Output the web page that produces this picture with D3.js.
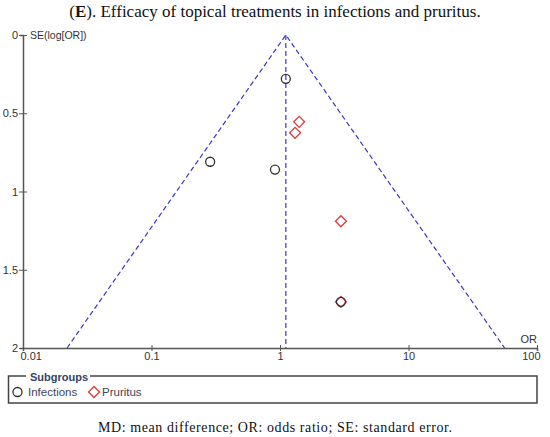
<!DOCTYPE html>
<html>
<head>
<meta charset="UTF-8">
<script src="https://cdn.jsdelivr.net/npm/d3@7"></script>
<style>
body { margin: 0; background: #fff; }
svg text { font-family: "Liberation Sans", Arial, sans-serif; }
</style>
</head>
<body>
<div id="chart"></div>
<script>
// study estimates
var subgroups = ["Infections", "Pruritus"];
var infectionsOR = [1.11, 0.286, 0.914, 2.98];
var infectionsSE = [0.28, 0.81, 0.86, 1.705];
var pruritusOR = [1.41, 1.31, 2.98, 2.98];
var pruritusSE = [0.555, 0.625, 1.19, 1.705];
var pooledOR = 1.11;
var xTicks = [0.01, 0.1, 1, 10, 100];
var yTicks = [0, 0.5, 1, 1.5, 2];

var w = 550, h = 437;
var svg = d3.select("#chart").append("svg")
    .attr("width", w)
    .attr("height", h);

var x = d3.scaleLog().domain([0.01, 100]).range([23, 537]);
var y = d3.scaleLinear().domain([0, 2]).range([35, 348]);

// title
var title = svg.append("text")
    .attr("x", 275).attr("y", 17)
    .attr("text-anchor", "middle")
    .style("font-family", "'Liberation Serif', serif")
    .style("font-size", "17px")
    .attr("fill", "#111");
title.append("tspan").text("(");
title.append("tspan").style("font-weight", "bold").text("E");
title.append("tspan").text("). Efficacy of topical treatments in infections and pruritus.");

// funnel lines
var seMax = 2;
var funnel = [
  [[pooledOR * Math.exp(-1.96 * seMax), seMax], [pooledOR, 0], [pooledOR * Math.exp(1.96 * seMax), seMax]]
];
var line = d3.line().x(d => x(d[0])).y(d => y(d[1]));
svg.append("path")
    .attr("d", line(funnel[0]))
    .attr("fill", "none")
    .attr("stroke", "#3838c4")
    .attr("stroke-width", 1.2)
    .attr("stroke-dasharray", "5,3");
svg.append("path")
    .attr("d", line([[pooledOR, 0], [pooledOR, seMax]]))
    .attr("fill", "none")
    .attr("stroke", "#3838c4")
    .attr("stroke-width", 1.2)
    .attr("stroke-dasharray", "5,3");

// axes
var xAxis = d3.axisBottom(x).tickValues(xTicks).tickSize(3)
    .tickFormat(d => String(d));
var gx = svg.append("g").attr("transform", "translate(0," + y(2) + ")").call(xAxis);
gx.selectAll(".tick line").attr("y1", -3);
gx.selectAll(".tick text").attr("dy", "0.5em").style("font-size", "11px").attr("fill", "#333");
gx.select(".domain").attr("stroke", "#555").attr("stroke-width", 1.5);
gx.selectAll(".tick line").attr("stroke", "#555");
gx.selectAll(".tick text").filter(d => d == 0.01).attr("text-anchor", "start").attr("dx", -3);
gx.selectAll(".tick text").filter(d => d == 100).attr("text-anchor", "end").attr("dx", 3);

var yAxis = d3.axisLeft(y).tickValues(yTicks).tickSize(3).tickFormat(d => String(d));
var gy = svg.append("g").attr("transform", "translate(" + x(0.01) + ",0)").call(yAxis);
gy.selectAll(".tick line").attr("x1", 4).attr("x2", -4).attr("stroke", "#555");
gy.selectAll(".tick text").attr("x", -5).style("font-size", "11px").attr("fill", "#333");
gy.select(".domain").attr("stroke", "#555").attr("stroke-width", 1.5);

svg.append("text").attr("x", 30).attr("y", 39)
    .style("font-size", "10.5px").attr("fill", "#333").text("SE(log[OR])");
svg.append("text").attr("x", 537).attr("y", 343).attr("text-anchor", "end")
    .style("font-size", "11px").attr("fill", "#333").text("OR");

// points
var inf = infectionsOR.map((d, i) => ({or: d, se: infectionsSE[i]}));
var pru = pruritusOR.map((d, i) => ({or: d, se: pruritusSE[i]}));
var diamond = d3.symbol().type(d3.symbolSquare).size(60);

svg.selectAll(".pru").data(pru).enter().append("path")
    .attr("class", "pru")
    .attr("d", diamond)
    .attr("transform", d => "translate(" + x(d.or) + "," + y(d.se) + ") rotate(45)")
    .attr("fill", "none")
    .attr("stroke", "#dd3b3b")
    .attr("stroke-width", 1.3);

svg.selectAll(".inf").data(inf).enter().append("circle")
    .attr("class", "inf")
    .attr("cx", d => x(d.or))
    .attr("cy", d => y(d.se))
    .attr("r", 4.5)
    .attr("fill", "none")
    .attr("stroke", "#333")
    .attr("stroke-width", 1.3);

// legend
var lg = svg.append("g");
lg.append("path")
    .attr("d", "M26,376 L8.5,376 L8.5,403 L537,403 L537,376 L90,376")
    .attr("fill", "none").attr("stroke", "#444").attr("stroke-width", 1.5);
lg.append("text").attr("x", 30).attr("y", 381)
    .style("font-size", "11px").style("font-weight", "bold").attr("fill", "#334466").text("Subgroups");
lg.append("circle").attr("cx", 17.5).attr("cy", 392).attr("r", 4.5)
    .attr("fill", "none").attr("stroke", "#333").attr("stroke-width", 1.3);
lg.append("text").attr("x", 28).attr("y", 396)
    .style("font-size", "11.5px").attr("fill", "#445").text(subgroups[0]);
lg.append("path").attr("d", diamond)
    .attr("transform", "translate(94,392) rotate(45)")
    .attr("fill", "none").attr("stroke", "#dd3b3b").attr("stroke-width", 1.3);
lg.append("text").attr("x", 102).attr("y", 396)
    .style("font-size", "11.5px").attr("fill", "#445").text(subgroups[1]);

// caption
svg.append("text")
    .attr("x", 275).attr("y", 432)
    .attr("text-anchor", "middle")
    .style("font-family", "'Liberation Serif', serif")
    .style("font-size", "14px")
    .attr("textLength", 354)
    .attr("lengthAdjust", "spacing")
    .attr("fill", "#111")
    .text("MD: mean difference; OR: odds ratio; SE: standard error.");
</script>
</body>
</html>
